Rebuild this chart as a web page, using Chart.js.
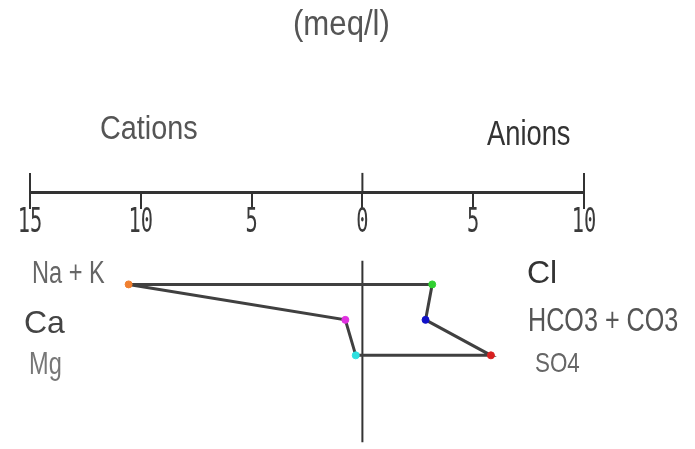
<!DOCTYPE html>
<html>
<head>
<meta charset="utf-8">
<script src="https://cdn.jsdelivr.net/npm/chart.js@4/dist/chart.umd.min.js"></script>
<style>
html, body { margin: 0; padding: 0; background: #fff; }
</style>
</head>
<body>
<canvas id="stiff" width="695" height="449"></canvas>
<script>
// Stiff diagram data (meq/l)
const rows = [1, 2, 3];
const cationNames = ['Na + K', 'Ca', 'Mg'];
const cationValues = [10.55, 0.77, 0.3];
const cationColors = ['#f08030', '#e030e0', '#30e0e0'];
const anionNames = ['Cl', 'HCO3 + CO3', 'SO4'];
const anionValues = [3.15, 2.85, 5.8];
const anionColors = ['#30d030', '#1010c8', '#d82020'];
const axisMin = -15;
const axisMax = 10;
const axisLevel = -1.58;

// outline: Na+K -> anions top to bottom -> cations bottom to top
let outline = [{ x: -cationValues[0], y: rows[0] }];
rows.forEach((r, i) => outline.push({ x: anionValues[i], y: r }));
for (let i = rows.length - 1; i >= 0; i--) {
    outline.push({ x: -cationValues[i], y: rows[i] });
}

let dots = [];
let dotColors = [];
rows.forEach((r, i) => {
    dots.push({ x: -cationValues[i], y: r });
    dotColors.push(cationColors[i]);
    dots.push({ x: anionValues[i], y: r });
    dotColors.push(anionColors[i]);
});

function texto(ctx, t, x, y, size, sx, color, align, family) {
    ctx.save();
    ctx.translate(x, y);
    ctx.scale(sx, 1);
    ctx.font = size + 'px ' + (family || '"Liberation Sans", Arial, sans-serif');
    ctx.fillStyle = color;
    ctx.textAlign = align || 'left';
    ctx.textBaseline = 'alphabetic';
    ctx.fillText(t, 0, 0);
    ctx.restore();
}

const stiffText = {
    id: 'stiffText',
    afterDraw(chart) {
        const ctx = chart.ctx;
        const x = chart.scales.x;
        const y = chart.scales.y;
        const axisY = y.getPixelForValue(axisLevel);

        // long ticks at both ends and zero
        ctx.save();
        ctx.strokeStyle = '#333';
        ctx.lineWidth = 2;
        [axisMin, 0, axisMax].forEach(v => {
            const px = x.getPixelForValue(v);
            ctx.beginPath();
            ctx.moveTo(px, axisY - 20);
            ctx.lineTo(px, axisY);
            ctx.stroke();
        });
        ctx.restore();

        // tick labels
        x.ticks.forEach(t => {
            texto(ctx, String(Math.abs(t.value)), x.getPixelForValue(t.value), axisY + 39, 34, 0.6, '#3a3a3a', 'center', '"DejaVu Sans Mono", monospace');
        });

        texto(ctx, '(meq/l)', 293, 35, 35, 0.89, '#555');
        texto(ctx, 'Cations', 100, 139, 33.5, 0.86, '#555');
        texto(ctx, 'Anions', 487, 145, 35, 0.78, '#333');

        const left = [[32, -1, 31, 0.76, '#666'], [24, 13, 32, 1, '#444'], [29, 19, 31, 0.76, '#777']];
        const right = [[527, -1, 32, 1, '#333'], [528, 11, 34, 0.74, '#555'], [535, 17, 28, 0.8, '#666']];
        rows.forEach((r, i) => {
            const py = y.getPixelForValue(r);
            const a = left[i];
            texto(ctx, cationNames[i], a[0], py + a[1], a[2], a[3], a[4]);
            const b = right[i];
            texto(ctx, anionNames[i], b[0], py + b[1], b[2], b[3], b[4]);
        });
    }
};

new Chart(document.getElementById('stiff').getContext('2d'), {
    type: 'scatter',
    data: {
        datasets: [{
            data: dots,
            pointBackgroundColor: dotColors,
            pointBorderColor: dotColors,
            pointRadius: 3.5,
            showLine: false
        }, {
            data: outline,
            showLine: true,
            borderColor: '#404040',
            borderWidth: 3,
            pointRadius: 0,
            tension: 0
        }, {
            data: [{ x: 0, y: 0.33 }, { x: 0, y: 5.45 }],
            showLine: true,
            borderColor: '#333',
            borderWidth: 2,
            pointRadius: 0
        }]
    },
    options: {
        responsive: false,
        animation: false,
        layout: { padding: { left: 30, right: 111, top: 178, bottom: 1 } },
        plugins: {
            legend: { display: false },
            tooltip: { enabled: false }
        },
        scales: {
            x: {
                type: 'linear',
                min: axisMin,
                max: axisMax,
                position: { y: axisLevel },
                ticks: { stepSize: 5, display: false },
                grid: { drawOnChartArea: false, drawTicks: true, tickLength: 15, color: '#333', lineWidth: 2 },
                border: { display: true, color: '#333', width: 3 }
            },
            y: {
                type: 'linear',
                min: -2,
                max: 5.5,
                reverse: true,
                display: false
            }
        }
    },
    plugins: [stiffText]
});
</script>
</body>
</html>
